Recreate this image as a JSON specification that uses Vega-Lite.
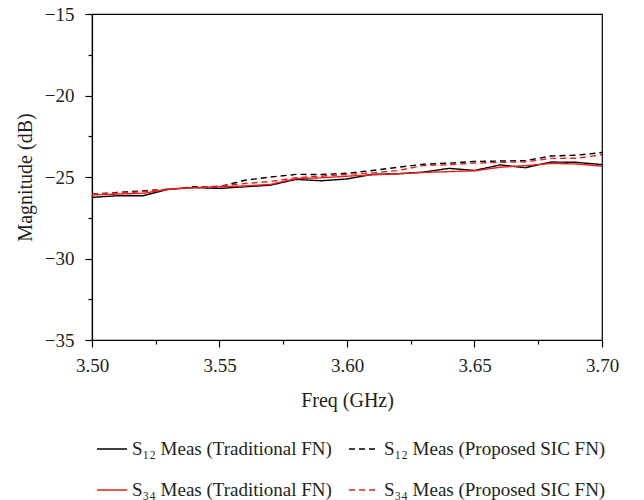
{
  "$schema": "https://vega.github.io/schema/vega-lite/v6.json",
  "width": 510,
  "height": 326,
  "autosize": {"type": "none"},
  "padding": {"left": 92, "top": 14, "right": 42, "bottom": 160},
  "config": {
    "font": "Liberation Serif",
    "view": {"stroke": "#000000", "strokeWidth": 1.2},
    "axis": {
      "grid": false,
      "labelFlush": false,
      "domainColor": "#000000",
      "domainWidth": 1.2,
      "tickColor": "#000000",
      "tickWidth": 1.2,
      "labelFont": "Liberation Serif",
      "labelFontSize": 19,
      "labelColor": "#231f20",
      "titleFont": "Liberation Serif",
      "titleFontSize": 20,
      "titleFontWeight": "normal",
      "titleColor": "#231f20"
    },
    "legend": {
      "labelFont": "Liberation Serif",
      "labelFontSize": 19,
      "labelColor": "#231f20",
      "labelLimit": 0
    }
  },
  "data": {
    "values": [
      {"f": 3.50, "v": -26.25, "s": "S₁₂ Meas (Traditional FN)"},
      {"f": 3.51, "v": -26.15, "s": "S₁₂ Meas (Traditional FN)"},
      {"f": 3.52, "v": -26.15, "s": "S₁₂ Meas (Traditional FN)"},
      {"f": 3.53, "v": -25.75, "s": "S₁₂ Meas (Traditional FN)"},
      {"f": 3.54, "v": -25.65, "s": "S₁₂ Meas (Traditional FN)"},
      {"f": 3.55, "v": -25.70, "s": "S₁₂ Meas (Traditional FN)"},
      {"f": 3.56, "v": -25.60, "s": "S₁₂ Meas (Traditional FN)"},
      {"f": 3.57, "v": -25.50, "s": "S₁₂ Meas (Traditional FN)"},
      {"f": 3.58, "v": -25.15, "s": "S₁₂ Meas (Traditional FN)"},
      {"f": 3.59, "v": -25.23, "s": "S₁₂ Meas (Traditional FN)"},
      {"f": 3.60, "v": -25.12, "s": "S₁₂ Meas (Traditional FN)"},
      {"f": 3.61, "v": -24.84, "s": "S₁₂ Meas (Traditional FN)"},
      {"f": 3.62, "v": -24.80, "s": "S₁₂ Meas (Traditional FN)"},
      {"f": 3.63, "v": -24.70, "s": "S₁₂ Meas (Traditional FN)"},
      {"f": 3.64, "v": -24.47, "s": "S₁₂ Meas (Traditional FN)"},
      {"f": 3.65, "v": -24.60, "s": "S₁₂ Meas (Traditional FN)"},
      {"f": 3.66, "v": -24.26, "s": "S₁₂ Meas (Traditional FN)"},
      {"f": 3.67, "v": -24.43, "s": "S₁₂ Meas (Traditional FN)"},
      {"f": 3.68, "v": -24.08, "s": "S₁₂ Meas (Traditional FN)"},
      {"f": 3.69, "v": -24.10, "s": "S₁₂ Meas (Traditional FN)"},
      {"f": 3.70, "v": -24.24, "s": "S₁₂ Meas (Traditional FN)"},

      {"f": 3.50, "v": -26.05, "s": "S₁₂ Meas (Proposed SIC FN)"},
      {"f": 3.51, "v": -25.95, "s": "S₁₂ Meas (Proposed SIC FN)"},
      {"f": 3.52, "v": -25.85, "s": "S₁₂ Meas (Proposed SIC FN)"},
      {"f": 3.53, "v": -25.75, "s": "S₁₂ Meas (Proposed SIC FN)"},
      {"f": 3.54, "v": -25.60, "s": "S₁₂ Meas (Proposed SIC FN)"},
      {"f": 3.55, "v": -25.60, "s": "S₁₂ Meas (Proposed SIC FN)"},
      {"f": 3.56, "v": -25.20, "s": "S₁₂ Meas (Proposed SIC FN)"},
      {"f": 3.57, "v": -25.00, "s": "S₁₂ Meas (Proposed SIC FN)"},
      {"f": 3.58, "v": -24.84, "s": "S₁₂ Meas (Proposed SIC FN)"},
      {"f": 3.59, "v": -24.85, "s": "S₁₂ Meas (Proposed SIC FN)"},
      {"f": 3.60, "v": -24.77, "s": "S₁₂ Meas (Proposed SIC FN)"},
      {"f": 3.61, "v": -24.60, "s": "S₁₂ Meas (Proposed SIC FN)"},
      {"f": 3.62, "v": -24.40, "s": "S₁₂ Meas (Proposed SIC FN)"},
      {"f": 3.63, "v": -24.22, "s": "S₁₂ Meas (Proposed SIC FN)"},
      {"f": 3.64, "v": -24.15, "s": "S₁₂ Meas (Proposed SIC FN)"},
      {"f": 3.65, "v": -24.05, "s": "S₁₂ Meas (Proposed SIC FN)"},
      {"f": 3.66, "v": -24.02, "s": "S₁₂ Meas (Proposed SIC FN)"},
      {"f": 3.67, "v": -24.00, "s": "S₁₂ Meas (Proposed SIC FN)"},
      {"f": 3.68, "v": -23.71, "s": "S₁₂ Meas (Proposed SIC FN)"},
      {"f": 3.69, "v": -23.66, "s": "S₁₂ Meas (Proposed SIC FN)"},
      {"f": 3.70, "v": -23.50, "s": "S₁₂ Meas (Proposed SIC FN)"},

      {"f": 3.50, "v": -26.10, "s": "S₃₄ Meas (Traditional FN)"},
      {"f": 3.51, "v": -26.05, "s": "S₃₄ Meas (Traditional FN)"},
      {"f": 3.52, "v": -26.00, "s": "S₃₄ Meas (Traditional FN)"},
      {"f": 3.53, "v": -25.75, "s": "S₃₄ Meas (Traditional FN)"},
      {"f": 3.54, "v": -25.65, "s": "S₃₄ Meas (Traditional FN)"},
      {"f": 3.55, "v": -25.60, "s": "S₃₄ Meas (Traditional FN)"},
      {"f": 3.56, "v": -25.55, "s": "S₃₄ Meas (Traditional FN)"},
      {"f": 3.57, "v": -25.45, "s": "S₃₄ Meas (Traditional FN)"},
      {"f": 3.58, "v": -25.10, "s": "S₃₄ Meas (Traditional FN)"},
      {"f": 3.59, "v": -25.05, "s": "S₃₄ Meas (Traditional FN)"},
      {"f": 3.60, "v": -24.95, "s": "S₃₄ Meas (Traditional FN)"},
      {"f": 3.61, "v": -24.87, "s": "S₃₄ Meas (Traditional FN)"},
      {"f": 3.62, "v": -24.80, "s": "S₃₄ Meas (Traditional FN)"},
      {"f": 3.63, "v": -24.72, "s": "S₃₄ Meas (Traditional FN)"},
      {"f": 3.64, "v": -24.67, "s": "S₃₄ Meas (Traditional FN)"},
      {"f": 3.65, "v": -24.62, "s": "S₃₄ Meas (Traditional FN)"},
      {"f": 3.66, "v": -24.40, "s": "S₃₄ Meas (Traditional FN)"},
      {"f": 3.67, "v": -24.30, "s": "S₃₄ Meas (Traditional FN)"},
      {"f": 3.68, "v": -24.17, "s": "S₃₄ Meas (Traditional FN)"},
      {"f": 3.69, "v": -24.20, "s": "S₃₄ Meas (Traditional FN)"},
      {"f": 3.70, "v": -24.33, "s": "S₃₄ Meas (Traditional FN)"},

      {"f": 3.50, "v": -26.05, "s": "S₃₄ Meas (Proposed SIC FN)"},
      {"f": 3.51, "v": -25.98, "s": "S₃₄ Meas (Proposed SIC FN)"},
      {"f": 3.52, "v": -25.90, "s": "S₃₄ Meas (Proposed SIC FN)"},
      {"f": 3.53, "v": -25.75, "s": "S₃₄ Meas (Proposed SIC FN)"},
      {"f": 3.54, "v": -25.65, "s": "S₃₄ Meas (Proposed SIC FN)"},
      {"f": 3.55, "v": -25.55, "s": "S₃₄ Meas (Proposed SIC FN)"},
      {"f": 3.56, "v": -25.40, "s": "S₃₄ Meas (Proposed SIC FN)"},
      {"f": 3.57, "v": -25.28, "s": "S₃₄ Meas (Proposed SIC FN)"},
      {"f": 3.58, "v": -25.04, "s": "S₃₄ Meas (Proposed SIC FN)"},
      {"f": 3.59, "v": -24.95, "s": "S₃₄ Meas (Proposed SIC FN)"},
      {"f": 3.60, "v": -24.84, "s": "S₃₄ Meas (Proposed SIC FN)"},
      {"f": 3.61, "v": -24.75, "s": "S₃₄ Meas (Proposed SIC FN)"},
      {"f": 3.62, "v": -24.60, "s": "S₃₄ Meas (Proposed SIC FN)"},
      {"f": 3.63, "v": -24.30, "s": "S₃₄ Meas (Proposed SIC FN)"},
      {"f": 3.64, "v": -24.25, "s": "S₃₄ Meas (Proposed SIC FN)"},
      {"f": 3.65, "v": -24.15, "s": "S₃₄ Meas (Proposed SIC FN)"},
      {"f": 3.66, "v": -24.10, "s": "S₃₄ Meas (Proposed SIC FN)"},
      {"f": 3.67, "v": -24.07, "s": "S₃₄ Meas (Proposed SIC FN)"},
      {"f": 3.68, "v": -23.86, "s": "S₃₄ Meas (Proposed SIC FN)"},
      {"f": 3.69, "v": -23.85, "s": "S₃₄ Meas (Proposed SIC FN)"},
      {"f": 3.70, "v": -23.63, "s": "S₃₄ Meas (Proposed SIC FN)"}
    ]
  },
  "layer": [
    {
      "mark": {"type": "line", "strokeWidth": 0, "opacity": 0},
      "encoding": {
        "x": {
          "field": "f", "type": "quantitative",
          "scale": {"domain": [3.5, 3.7], "nice": false, "zero": false},
          "axis": {"values": [3.525, 3.575, 3.625, 3.675], "labels": false, "domain": false, "tickSize": 4, "title": null, "orient": "bottom"}
        },
        "y": {
          "field": "v", "type": "quantitative",
          "scale": {"domain": [-35, -15], "nice": false, "zero": false},
          "axis": {"values": [-32.5, -27.5, -22.5, -17.5], "labels": false, "domain": false, "tickSize": 4, "title": null, "orient": "left"}
        },
        "detail": {"field": "s"}
      }
    },
    {
      "mark": {"type": "line", "strokeWidth": 1.4},
      "encoding": {
        "x": {
          "field": "f", "type": "quantitative",
          "scale": {"domain": [3.5, 3.7], "nice": false, "zero": false},
          "axis": {"values": [3.5, 3.55, 3.6, 3.65, 3.7], "format": ".2f", "tickSize": 7, "labelPadding": 9, "title": "Freq (GHz)", "titlePadding": 15, "orient": "bottom"}
        },
        "y": {
          "field": "v", "type": "quantitative",
          "scale": {"domain": [-35, -15], "nice": false, "zero": false},
          "axis": {"values": [-35, -30, -25, -20, -15], "tickSize": 7, "labelPadding": 11, "title": "Magnitude (dB)", "titlePadding": 9, "orient": "left"}
        },
        "color": {
          "field": "s", "type": "nominal",
          "scale": {
            "domain": ["S₁₂ Meas (Traditional FN)", "S₁₂ Meas (Proposed SIC FN)", "S₃₄ Meas (Traditional FN)", "S₃₄ Meas (Proposed SIC FN)"],
            "range": ["#000000", "#000000", "#ee1d1d", "#ee1d1d"]
          },
          "legend": {
            "title": null,
            "orient": "none",
            "legendX": 4,
            "legendY": 419,
            "columns": 2,
            "direction": "horizontal",
            "symbolType": "stroke",
            "symbolSize": 900,
            "symbolStrokeWidth": 1.3,
            "labelOffset": 4,
            "columnPadding": 14,
            "rowPadding": 15
          }
        },
        "strokeDash": {
          "field": "s", "type": "nominal",
          "scale": {
            "domain": ["S₁₂ Meas (Traditional FN)", "S₁₂ Meas (Proposed SIC FN)", "S₃₄ Meas (Traditional FN)", "S₃₄ Meas (Proposed SIC FN)"],
            "range": [[1, 0], [6, 4], [1, 0], [6, 4]]
          },
          "legend": null
        }
      }
    }
  ],
  "resolve": {"axis": {"x": "independent", "y": "independent"}}
}
